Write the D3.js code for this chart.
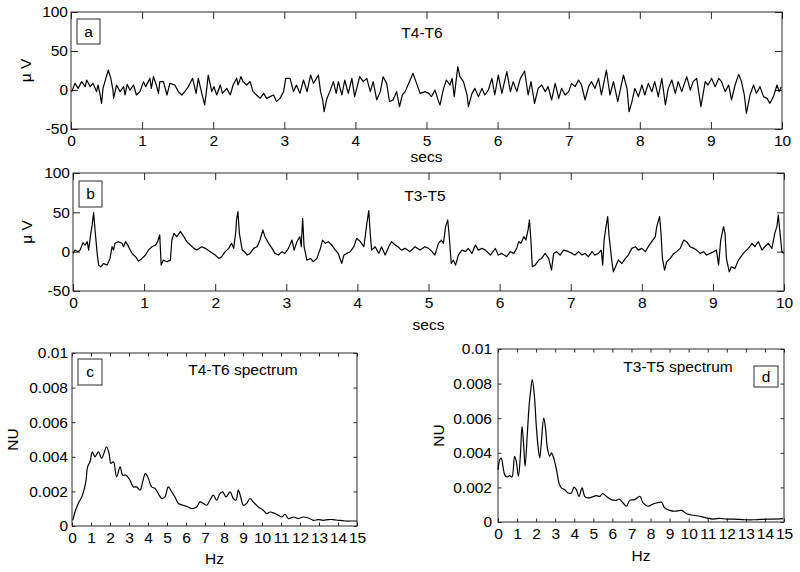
<!DOCTYPE html>
<html><head><meta charset="utf-8">
<script src="https://cdn.jsdelivr.net/npm/d3@7"></script>
<style>
html,body{margin:0;padding:0;background:#fff;}
svg{display:block;font-family:"Liberation Sans",Arial,sans-serif;}
</style></head>
<body>
<script>
// ---------------- DATA ----------------
// Panel a: T4-T6 (seconds, microvolts)
const tA = [0.01,0.056,0.10,0.15,0.20,0.22,0.27,0.31,0.36,0.38,0.41,0.43,0.45,0.49,0.525,0.56,0.59,0.60,0.64,0.69,0.74,0.76,0.79,0.83,0.88,0.92,0.97,1.02,1.05,1.11,1.13,1.16,1.20,1.23,1.25,1.30,1.35,1.39,1.46,1.51,1.56,1.60,1.65,1.71,1.76,1.79,1.84,1.88,1.91,1.93,1.98,2.01,2.05,2.10,2.13,2.19,2.24,2.28,2.33,2.35,2.39,2.42,2.47,2.52,2.56,2.61,2.66,2.71,2.75,2.80,2.85,2.89,2.94,2.99,3.02,3.08,3.13,3.17,3.22,3.27,3.32,3.37,3.41,3.48,3.51,3.54,3.56,3.60,3.64,3.69,3.73,3.76,3.81,3.85,3.90,3.95,3.99,4.06,4.11,4.16,4.21,4.25,4.30,4.35,4.39,4.44,4.48,4.53,4.58,4.62,4.66,4.70,4.74,4.79,4.81,4.86,4.91,
4.98,5.03,5.07,5.12,5.17,5.19,5.24,5.28,5.33,5.36,5.39,5.44,5.47,5.52,5.57,5.59,5.64,5.68,5.73,5.78,5.82,5.87,5.92,5.96,6.01,6.06,6.13,6.18,6.22,6.27,6.32,6.38,6.43,6.47,6.52,6.57,6.62,6.67,6.71,6.76,6.81,6.86,6.90,6.95,7.00,7.04,7.09,7.14,7.18,7.23,7.28,7.32,7.37,7.42,7.46,7.53,7.58,7.63,7.69,7.77,7.82,7.85,7.89,7.93,7.98,8.03,8.07,8.12,8.17,8.21,8.26,8.31,8.36,8.40,8.45,8.50,8.54,8.59,8.66,8.71,8.75,8.80,8.86,8.92,8.96,9.01,9.06,9.11,9.15,9.20,9.25,9.29,9.34,9.39,9.43,9.47,9.50,9.55,9.60,9.64,9.69,9.74,9.79,9.83,9.88,9.93,9.96,9.99];
const vA = [-2.1,8.5,2.1,10.7,4.3,12.8,4.3,8.5,-2.1,6.4,-6.4,-17.1,2.1,14.9,25.6,14.9,0,-10.7,6.4,-2.1,4.3,-6.4,7.3,0,6.4,-6.4,-2.1,10.7,4.3,14.9,2.1,17.1,6.4,-4.3,10.7,10.7,-6.4,8.5,6.4,-2.1,-6.4,-2.1,4.3,14.9,-4.3,14.9,-4.3,-19.2,2.1,19.2,-2.1,4.3,-6.4,6.4,-4.3,2.1,-6.4,6.4,14.9,6.4,17.1,10.7,6.4,10.7,-2.1,-6.4,-10.7,-4.3,-10.7,-8.5,-6.4,-14.9,-10.7,-2.1,14.9,14.9,-2.1,6.4,-4.3,12.8,-2.1,19.2,8.5,19.2,-2.1,-12.8,-27.8,-10.7,-2.1,10.7,-4.3,10.7,-6.4,12.8,-4.3,14.9,-8.5,17.1,10.7,14.9,-2.1,10.7,-12.8,-2.1,17.1,8.5,-14.9,-12.8,-2.1,-21.4,-6.4,-2.1,6.4,17.1,21.4,8.5,-4.3,
-2.1,-4.3,-8.5,0,-14.9,-19.2,2.1,12.8,6.4,14.9,-8.5,29.9,17.1,10.7,-6.4,-21.4,-4.3,2.1,-8.5,2.1,-6.4,0,14.9,-6.4,19.2,-4.3,23.5,-2.1,10.7,-2.1,14.9,24.3,-6.4,10.7,-17.1,2.1,6.4,-2.1,4.3,-12.8,8.5,-10.7,2.1,-6.4,-2.1,8.5,4.3,12.8,6.4,-12.8,4.3,10.7,2.1,14.9,-6.4,25.6,-6.4,10.7,-14.9,19.2,2.1,-27.8,-14.9,2.1,-8.5,6.4,-6.4,8.5,-2.1,10.7,-8.5,14.9,-19.2,2.1,12.8,-4.3,10.7,-2.1,17.1,0,10.7,14.9,-21.4,10.7,6.4,14.9,4.3,14.9,10.7,-2.1,6.4,-12.8,6.4,20.1,10.7,-6.4,-29.9,-6.4,6.4,-4.3,4.3,-8.5,-10.7,-17.1,-8.5,6.4,-2.1,4.3];

// Panel b: T3-T5 (seconds, microvolts)
const tB = [0,0.03,0.07,0.10,0.14,0.17,0.20,0.22,0.25,0.27,0.29,0.31,0.34,0.36,0.39,0.43,0.48,0.52,0.55,0.57,0.59,0.64,0.69,0.71,0.74,0.77,0.80,0.83,0.88,0.92,0.97,1.02,1.06,1.11,1.16,1.19,1.22,1.24,1.27,1.32,1.37,1.39,1.42,1.46,1.51,1.56,1.60,1.65,1.70,1.74,1.81,1.86,1.93,2.00,2.05,2.09,2.14,2.19,2.23,2.26,2.29,2.30,2.32,2.34,2.38,2.41,2.45,2.49,2.54,2.59,2.63,2.67,2.70,2.75,2.80,2.84,2.89,2.94,2.98,3.03,3.08,3.11,3.15,3.19,3.21,3.23,3.25,3.29,3.34,3.38,3.43,3.48,3.51,3.55,3.59,3.64,3.69,3.73,3.78,3.81,3.85,3.90,3.95,3.99,4.04,4.09,4.11,4.13,4.16,4.18,4.20,4.25,4.30,4.34,4.39,4.44,4.48,4.53,4.57,4.62,4.67,4.74,4.81,4.88,
4.95,5.00,5.05,5.09,5.14,5.18,5.21,5.24,5.27,5.29,5.32,5.35,5.38,5.42,5.47,5.52,5.56,5.61,5.66,5.70,5.75,5.80,5.87,5.94,5.98,6.03,6.10,6.15,6.20,6.24,6.27,6.30,6.34,6.37,6.40,6.42,6.44,6.46,6.50,6.55,6.59,6.64,6.69,6.73,6.76,6.80,6.85,6.90,6.97,7.02,7.06,7.11,7.16,7.20,7.25,7.30,7.34,7.39,7.43,7.45,7.47,7.49,7.52,7.54,7.58,7.60,7.63,7.67,7.72,7.77,7.81,7.86,7.91,7.95,8.00,8.05,8.09,8.14,8.19,8.21,8.25,8.27,8.29,8.32,8.35,8.40,8.45,8.49,8.54,8.59,8.63,8.68,8.73,8.77,8.82,8.87,8.91,8.96,9.01,9.05,9.08,9.11,9.15,9.17,9.19,9.23,9.26,9.31,9.36,9.41,9.45,9.50,9.55,9.59,9.64,9.69,9.73,9.78,9.83,9.87,9.90,9.92,9.94,9.97,10.0];
const vB = [-2.2,2,0,2,11.4,8.4,12.7,2,23.3,34,49.8,27.6,-2.2,-17.1,-19.3,-15,-17.1,-8.6,6.3,2,10.6,12.7,10.6,6.3,12.7,8.4,2.9,-2.2,-6.5,-12,-8.6,-4.3,2,6.3,8.4,12.7,21.2,-17.1,-10.7,-12.8,-10.7,14.8,23.3,19.1,25.5,19.1,12.7,8.4,4.2,2,6.3,4.2,0,-4.3,-8.6,-6.5,0,4.2,10.6,4.2,25.5,40.4,51,23.3,2,0,-4.3,-2.2,4.2,6.3,14.8,27.6,19.1,10.6,4.2,-2.2,-4.3,0,-2.2,4.2,14.8,2,12.7,19.1,6.3,42.5,6.3,-10.7,-8.6,-12.8,-8.6,4.2,14.8,10.6,12.7,8.4,2,-2.2,-15,-4.3,-2.2,0,6.3,17,12.7,6.3,19.1,34,52.3,23.3,2,6.3,-2.2,6.3,-4.3,6.3,12.7,8.4,6.3,2,4.2,0,6.3,2,
6.3,4.2,0,-4.3,10.6,14.8,10.6,31.9,40.4,21.2,-15,-10.7,-17.1,-4.3,2,0,4.2,-2.2,8.4,2,4.2,2,-4.3,4.2,-4.3,-2.2,-6.5,0,-2.2,4.2,12.7,10.6,19.1,14.8,27.6,40.4,14.8,-19.3,-17.1,-10.7,-8.6,-2.2,-8.6,-23.4,-2.2,0,-4.3,2,0,-2.2,-4.3,0,-4.3,-2.2,-6.5,0,-4.3,-2.2,2,-17.1,14.8,27.6,44.6,19.1,-12.8,-25.6,-19.3,-10.7,-15,-8.6,-4.3,4.2,6.3,2,4.2,0,6.3,12.7,19.1,31.9,44.6,23.3,-8.6,-23.4,-12.8,-8.6,-2.2,0,4.2,14.8,12.7,6.3,4.2,2,-2.2,0,-4.3,-2.2,0,2,-17.1,14.8,31.9,23.3,-8.6,-25.6,-19.3,-21.4,-10.7,-4.3,0,4.2,10.6,6.3,12.7,2,6.3,10.6,4.2,23.3,31.9,46.8,27.6,0,-2.2];

// Panel c: T4-T6 spectrum (Hz, NU)
const fC = [0.04,0.16,0.33,0.51,0.63,0.74,0.82,0.95,1.07,1.21,1.39,1.56,1.68,1.82,1.95,2.05,2.18,2.35,2.53,2.67,2.84,3.05,3.23,3.40,3.58,3.72,3.86,4.02,4.19,4.37,4.54,4.72,4.89,5.07,5.25,5.42,5.60,5.86,6.12,6.30,6.56,6.74,6.91,7.09,7.26,7.44,7.61,7.79,7.93,8.11,8.32,8.49,8.63,8.75,8.88,9.02,9.19,9.37,9.54,9.81,10.07,10.25,10.42,10.68,10.86,11.04,11.21,11.39,11.65,11.91,12.17,12.44,12.70,12.96,13.23,13.49,13.75,14.02,14.37,14.81,15.0];
const pC = [0.00033,0.00081,0.00130,0.00168,0.00207,0.00265,0.00342,0.00371,0.00429,0.00400,0.00429,0.00391,0.00420,0.00458,0.00420,0.00362,0.00371,0.00284,0.00342,0.00294,0.00294,0.00265,0.00226,0.00226,0.00207,0.00255,0.00304,0.00275,0.00226,0.00217,0.00188,0.00159,0.00168,0.00226,0.00197,0.00168,0.00130,0.00120,0.00110,0.00101,0.00110,0.00139,0.00130,0.00120,0.00149,0.00178,0.00149,0.00188,0.00197,0.00168,0.00197,0.00159,0.00149,0.00207,0.00168,0.00120,0.00130,0.00159,0.00139,0.00110,0.00091,0.00072,0.00081,0.00072,0.00062,0.00052,0.00068,0.00043,0.00052,0.00043,0.00052,0.00046,0.00033,0.00037,0.00033,0.00037,0.00037,0.00033,0.00029,0.00029,0.00029];

// Panel d: T3-T5 spectrum (Hz, NU)
const fD = [0,0.09,0.17,0.26,0.35,0.47,0.61,0.73,0.87,0.96,1.07,1.17,1.26,1.35,1.42,1.54,1.63,1.70,1.80,1.91,2.01,2.10,2.19,2.27,2.40,2.50,2.59,2.71,2.80,2.89,3.01,3.10,3.20,3.32,3.50,3.67,3.85,3.99,4.11,4.25,4.41,4.55,4.72,4.95,5.16,5.34,5.48,5.69,5.95,6.18,6.35,6.56,6.74,6.91,7.17,7.44,7.61,7.87,8.05,8.31,8.57,8.75,9.01,9.27,9.62,9.89,10.24,10.59,10.94,11.29,11.64,11.99,12.34,12.69,13.04,13.39,13.74,14.09,14.44,14.96];
const pD = [0.00302,0.00360,0.00370,0.00322,0.00274,0.00260,0.00268,0.00260,0.00380,0.00351,0.00264,0.00380,0.00553,0.00437,0.00322,0.00514,0.00669,0.00746,0.00823,0.00726,0.00553,0.00437,0.00370,0.00457,0.00601,0.00534,0.00428,0.00380,0.00399,0.00380,0.00331,0.00283,0.00225,0.00197,0.00187,0.00168,0.00168,0.00202,0.00187,0.00148,0.00197,0.00148,0.00139,0.00145,0.00152,0.00148,0.00164,0.00148,0.00129,0.00125,0.00133,0.00110,0.00091,0.00125,0.00129,0.00148,0.00110,0.00091,0.00100,0.00110,0.00114,0.00081,0.00067,0.00062,0.00067,0.00048,0.00039,0.00033,0.00023,0.00017,0.00021,0.00017,0.00017,0.00015,0.00013,0.00013,0.00015,0.00017,0.00017,0.00019];

// Tick values / labels
const timeTicks = [0,1,2,3,4,5,6,7,8,9,10];
const uvTicks = [-50,0,50,100];
const hzTicks = [0,1,2,3,4,5,6,7,8,9,10,11,12,13,14,15];
const nuTicks = [0,0.002,0.004,0.006,0.008,0.01];
const nuTickLabels = ["0","0.002","0.004","0.006","0.008","0.01"];

// ---------------- DRAW ----------------
const W = 800, H = 572;
const svg = d3.select("body").append("svg").attr("width", W).attr("height", H);
svg.append("rect").attr("width", W).attr("height", H).attr("fill", "#fff");

const FS = 15.5;
const AX = "#2a2a2a";

function panel(o) {
  const g = svg.append("g");
  const x = d3.scaleLinear().domain(o.xDomain).range([o.x0, o.x1]);
  const y = d3.scaleLinear().domain(o.yDomain).range([o.y1, o.y0]);
  const tl = o.tickLen;

  const styleAxis = (sel) => {
    sel.select(".domain").remove();
    sel.selectAll("line").attr("stroke", AX);
    sel.selectAll("text").attr("fill", "#000").attr("font-size", FS)
      .attr("font-family", '"Liberation Sans",Arial,sans-serif');
  };

  g.append("g").attr("transform", `translate(0,${o.y1})`)
    .call(d3.axisBottom(x).tickValues(o.xTicks).tickSizeInner(-tl).tickSizeOuter(0).tickPadding(6))
    .call(styleAxis);
  g.append("g").attr("transform", `translate(0,${o.y0})`)
    .call(d3.axisTop(x).tickValues(o.xTicks).tickFormat("").tickSizeInner(-tl).tickSizeOuter(0))
    .call(styleAxis);
  g.append("g").attr("transform", `translate(${o.x0},0)`)
    .call(d3.axisLeft(y).tickValues(o.yTicks).tickFormat((d, i) => o.yLabels[i]).tickSizeInner(-tl).tickSizeOuter(0).tickPadding(o.yPad))
    .call(styleAxis);
  g.append("g").attr("transform", `translate(${o.x1},0)`)
    .call(d3.axisRight(y).tickValues(o.yTicks).tickFormat("").tickSizeInner(-tl).tickSizeOuter(0))
    .call(styleAxis);

  g.append("rect").attr("x", o.x0).attr("y", o.y0)
    .attr("width", o.x1 - o.x0).attr("height", o.y1 - o.y0)
    .attr("fill", "none").attr("stroke", AX).attr("stroke-width", 1);

  const pts = o.xs.map((d, i) => [d, o.ys[i]]);
  g.append("path").datum(pts)
    .attr("d", d3.line().x(d => x(d[0])).y(d => y(d[1])).curve(o.curve || d3.curveLinear))
    .attr("fill", "none").attr("stroke", "#000").attr("stroke-width", 1.2)
    .attr("stroke-linejoin", "round");

  const lb = o.labelBox;
  g.append("rect").attr("x", lb[0]).attr("y", lb[1]).attr("width", lb[2]).attr("height", lb[3])
    .attr("fill", "#fff").attr("stroke", AX).attr("stroke-width", 1);
  g.append("text").attr("x", lb[0] + lb[2] / 2).attr("y", lb[1] + lb[3] / 2)
    .attr("dy", "0.35em").attr("text-anchor", "middle").attr("font-size", FS).text(o.label);

  g.append("text").attr("x", o.title[1]).attr("y", o.title[2])
    .attr("text-anchor", "middle").attr("font-size", FS).text(o.title[0]);

  g.append("text").attr("x", (o.x0 + o.x1) / 2).attr("y", o.xLabelY)
    .attr("text-anchor", "middle").attr("font-size", FS).text(o.xLabel);
  g.append("text").attr("transform", `translate(${o.yLabelX},${(o.y0 + o.y1) / 2}) rotate(-90)`)
    .attr("dy", "0.35em").attr("text-anchor", "middle").attr("font-size", FS).text(o.yLabel);
}

panel({x0:71, x1:782, y0:12, y1:129, xDomain:[0,10], yDomain:[-50,100],
  xTicks:timeTicks, yTicks:uvTicks, yLabels:uvTicks.map(String), yPad:3, tickLen:7,
  xs:tA, ys:vA, label:"a", labelBox:[77,19,23,25], title:["T4-T6",422,38],
  xLabel:"secs", xLabelY:162, yLabel:"\u03bc V", yLabelX:26});

panel({x0:73, x1:784, y0:173, y1:291, xDomain:[0,10], yDomain:[-50,100],
  xTicks:timeTicks, yTicks:uvTicks, yLabels:uvTicks.map(String), yPad:3, tickLen:7,
  xs:tB, ys:vB, label:"b", labelBox:[79,181,23,26], title:["T3-T5",425,201],
  xLabel:"secs", xLabelY:330, yLabel:"\u03bc V", yLabelX:27});

panel({x0:72, x1:357, y0:353, y1:526, xDomain:[0,15], yDomain:[0,0.01],
  xTicks:hzTicks, yTicks:nuTicks, yLabels:nuTickLabels, yPad:4, tickLen:3.5,
  xs:fC, ys:pC, curve:d3.curveCatmullRom, label:"c", labelBox:[78,359,24,26], title:["T4-T6 spectrum",243,375],
  xLabel:"Hz", xLabelY:564, yLabel:"NU", yLabelX:13});

panel({x0:498, x1:784, y0:349, y1:522, xDomain:[0,15], yDomain:[0,0.01],
  xTicks:hzTicks, yTicks:nuTicks, yLabels:nuTickLabels, yPad:6, tickLen:3.5,
  xs:fD, ys:pD, curve:d3.curveCatmullRom, label:"d", labelBox:[754,366,24,21], title:["T3-T5 spectrum",678,372],
  xLabel:"Hz", xLabelY:561, yLabel:"NU", yLabelX:439});
</script>
</body></html>
